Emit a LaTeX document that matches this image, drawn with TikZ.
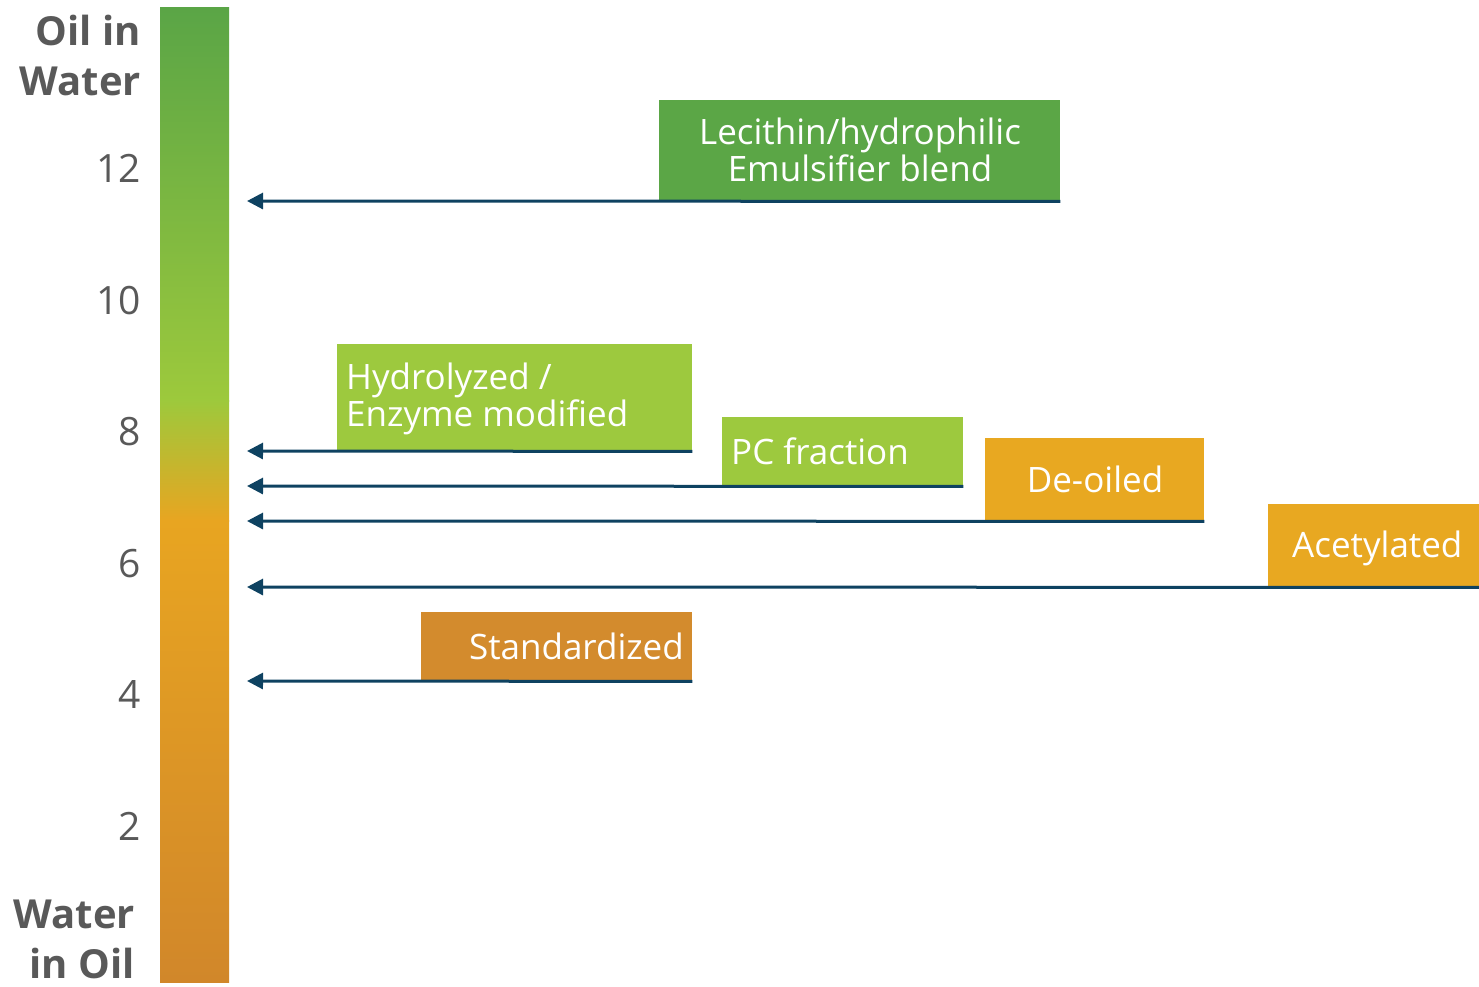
\documentclass[tikz,border=0pt]{standalone}
\usepackage{fontspec}
\setmainfont{Open Sans}
\usetikzlibrary{arrows.meta}
\definecolor{navy}{HTML}{0E4261}
\definecolor{gtext}{HTML}{595959}
\definecolor{cgreen}{HTML}{5BA646}
\definecolor{clime}{HTML}{9DC93E}
\definecolor{cyel}{HTML}{E8A821}
\definecolor{corange}{HTML}{D38B2D}
\definecolor{sA}{HTML}{5AA546}
\definecolor{sB}{HTML}{9DC93C}
\definecolor{sC}{HTML}{E8A521}
\definecolor{sD}{HTML}{D1872A}
\tikzset{
  box/.style={draw=none, inner sep=0pt, anchor=north west},
  lbl/.style={text=white, inner sep=0pt, font=\fontsize{35}{37}\selectfont},
  num/.style={text=gtext, inner sep=0pt, anchor=base east, font=\fontsize{39}{40}\selectfont},
  ttl/.style={text=gtext, inner sep=0pt, align=right, font=\fontsize{40}{50}\selectfont\bfseries},
  arr/.style={draw=navy, line width=3pt, -{Triangle[length=16pt,width=16pt]}},
}
\begin{document}
\begin{tikzpicture}[x=1pt,y=-1pt]
\useasboundingbox (0,0) rectangle (1479,986);
% gradient bar
\shade[top color=sA, bottom color=sB] (160,7) rectangle (229,401);
\shade[top color=sB, bottom color=sC] (160,400) rectangle (229,521);
\shade[top color=sC, bottom color=sD] (160,520) rectangle (229,982);
% axis titles
\node[ttl, anchor=base east] (ow) at (141,95) {Oil in\\Water};
\node[ttl, anchor=base east] (wo) at (135,978) {Water\\in Oil};
% numbers
\node[num] (n12) at (141,182) {12};
\node[num] (n10) at (141,314) {10};
\node[num] (n8) at (141,445) {8};
\node[num] (n6) at (141,577) {6};
\node[num] (n4) at (141,708) {4};
\node[num] (n2) at (141,840) {2};
% boxes
\node[box, fill=cgreen, minimum width=401pt, minimum height=101pt] (lec) at (659,100) {};
\node[box, fill=clime, minimum width=355pt, minimum height=107pt] (hyd) at (337,344) {};
\node[box, fill=clime, minimum width=241pt, minimum height=69pt] (pc) at (722,417) {};
\node[box, fill=cyel, minimum width=219pt, minimum height=83pt] (deo) at (985,438) {};
\node[box, fill=cyel, minimum width=211pt, minimum height=83pt] (ace) at (1268,504) {};
\node[box, fill=corange, minimum width=271pt, minimum height=69pt] (std) at (421,612) {};
% labels
\node[lbl, anchor=base, align=center] (tlec) at (860,181) {Lecithin/hydrophilic\\Emulsifier blend};
\node[lbl, anchor=base west, align=left] (thyd) at (346,426) {Hydrolyzed /\\Enzyme modified};
\node[lbl, anchor=base west] (tpc) at (731,464) {PC fraction};
\node[lbl, anchor=base] (tdeo) at (1095,492) {De-oiled};
\node[lbl, anchor=base west] (tace) at (1292,557) {Acetylated};
\node[lbl, anchor=base east] (tstd) at (684,659) {Standardized};
% arrow tips
\coordinate (e1) at (247,201);
\coordinate (e2) at (247,451);
\coordinate (e3) at (247,486);
\coordinate (e4) at (247,521);
\coordinate (e5) at (247,587);
\coordinate (e6) at (247,681);
\draw[arr] (lec.south east) -- (e1);
\draw[arr] (hyd.south east) -- (e2);
\draw[arr] (pc.south east) -- (e3);
\draw[arr] (deo.south east) -- (e4);
\draw[arr] (ace.south east) -- (e5);
\draw[arr] (std.south east) -- (e6);
\end{tikzpicture}
\end{document}
